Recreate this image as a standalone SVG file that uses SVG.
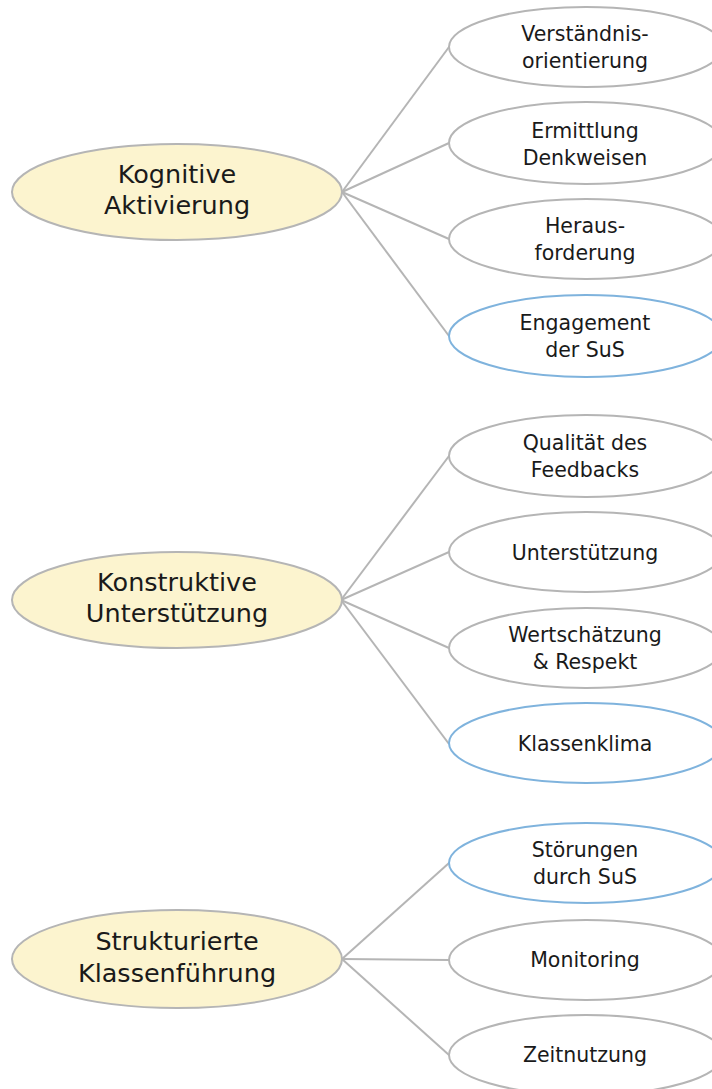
<svg xmlns="http://www.w3.org/2000/svg" width="712" height="1089" viewBox="0 0 712 1089">
<style>
.main{fill:#fcf4cf;stroke:#b5b5b5;stroke-width:2}
.sub{fill:#ffffff;stroke:#b5b5b5;stroke-width:2}
.subb{fill:#ffffff;stroke:#7fb3dd;stroke-width:2}
.conn line{stroke:#b5b5b5;stroke-width:2}
text{font-family:"DejaVu Sans","Liberation Sans",sans-serif;fill:#1a1a1a;text-anchor:middle}
.tm{font-size:25.5px}
.ts{font-size:20.5px}
</style>
<rect width="712" height="1089" fill="#ffffff"/>
<g id="connectors" class="conn">
<line x1="342" y1="192" x2="449" y2="47"/>
<line x1="342" y1="192" x2="449" y2="143"/>
<line x1="342" y1="192" x2="449" y2="239"/>
<line x1="342" y1="192" x2="449" y2="336"/>
<line x1="341" y1="600" x2="449" y2="456"/>
<line x1="341" y1="600" x2="449" y2="552"/>
<line x1="341" y1="600" x2="449" y2="648"/>
<line x1="341" y1="600" x2="449" y2="744"/>
<line x1="342" y1="959" x2="449" y2="863"/>
<line x1="342" y1="959" x2="449" y2="960"/>
<line x1="342" y1="959" x2="449" y2="1055"/>
</g>
<g id="n-kognitive"><ellipse class="main" cx="177" cy="192" rx="165" ry="48"/><text class="tm" x="177" y="183">Kognitive</text><text class="tm" x="177" y="214">Aktivierung</text></g>
<g id="n-konstruktive"><ellipse class="main" cx="177" cy="600" rx="165" ry="48"/><text class="tm" x="177" y="591">Konstruktive</text><text class="tm" x="177" y="622">Unterstützung</text></g>
<g id="n-strukturierte"><ellipse class="main" cx="177" cy="959" rx="165" ry="49"/><text class="tm" x="177" y="950">Strukturierte</text><text class="tm" x="177" y="982">Klassenführung</text></g>
<g id="n-verstaendnis"><ellipse class="sub" cx="586" cy="47" rx="137" ry="40"/><text class="ts" x="585" y="41">Verständnis-</text><text class="ts" x="585" y="68">orientierung</text></g>
<g id="n-ermittlung"><ellipse class="sub" cx="586" cy="143" rx="137" ry="41"/><text class="ts" x="585" y="138">Ermittlung</text><text class="ts" x="585" y="165">Denkweisen</text></g>
<g id="n-heraus"><ellipse class="sub" cx="586" cy="239" rx="137" ry="40"/><text class="ts" x="585" y="233">Heraus-</text><text class="ts" x="585" y="260">forderung</text></g>
<g id="n-engagement"><ellipse class="subb" cx="586" cy="336" rx="137" ry="41"/><text class="ts" x="585" y="330">Engagement</text><text class="ts" x="585" y="357">der SuS</text></g>
<g id="n-qualitaet"><ellipse class="sub" cx="586" cy="456" rx="137" ry="41"/><text class="ts" x="585" y="450">Qualität des</text><text class="ts" x="585" y="477">Feedbacks</text></g>
<g id="n-unterstuetzung"><ellipse class="sub" cx="586" cy="552" rx="137" ry="40"/><text class="ts" x="585" y="560">Unterstützung</text></g>
<g id="n-wertschaetzung"><ellipse class="sub" cx="586" cy="648" rx="137" ry="40"/><text class="ts" x="585" y="642">Wertschätzung</text><text class="ts" x="585" y="669">&amp; Respekt</text></g>
<g id="n-klassenklima"><ellipse class="subb" cx="586" cy="743" rx="137" ry="40"/><text class="ts" x="585" y="751">Klassenklima</text></g>
<g id="n-stoerungen"><ellipse class="subb" cx="586" cy="863" rx="137" ry="40"/><text class="ts" x="585" y="857">Störungen</text><text class="ts" x="585" y="884">durch SuS</text></g>
<g id="n-monitoring"><ellipse class="sub" cx="586" cy="960" rx="137" ry="40"/><text class="ts" x="585" y="967">Monitoring</text></g>
<g id="n-zeitnutzung"><ellipse class="sub" cx="586" cy="1055" rx="137" ry="40"/><text class="ts" x="585" y="1062">Zeitnutzung</text></g>
</svg>
